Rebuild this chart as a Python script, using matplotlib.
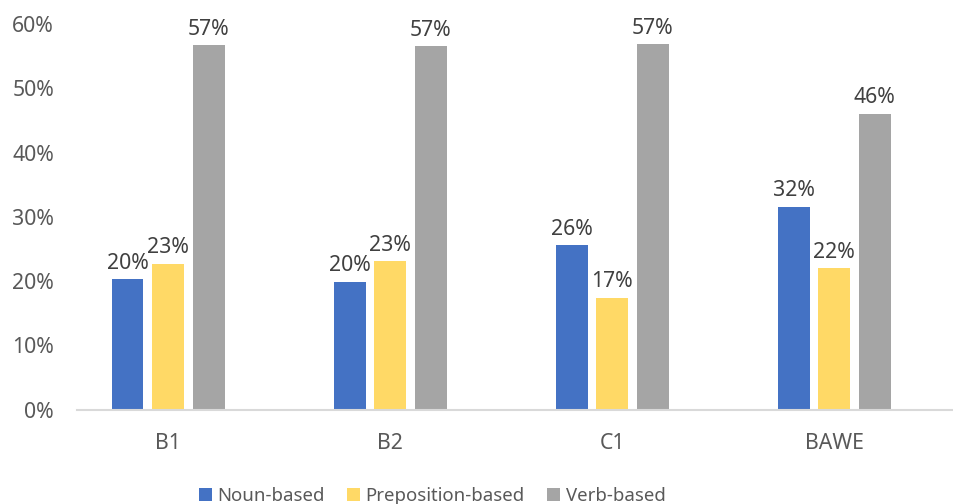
import numpy as np
import matplotlib.pyplot as plt

plt.rcParams['font.family'] = ['Noto Sans', 'DejaVu Sans']

categories = ['B1', 'B2', 'C1', 'BAWE']
series = ['Noun-based', 'Preposition-based', 'Verb-based']
noun = [0.203, 0.199, 0.256, 0.316]
prep = [0.227, 0.231, 0.174, 0.220]
verb = [0.567, 0.566, 0.569, 0.461]
colors = ['#4472C4', '#FFD966', '#A5A5A5']

fig = plt.figure(figsize=(9.54, 5.04), dpi=100)
ax = fig.add_axes([77 / 954, 0.1875, 877 / 954, 0.7643])

x = np.arange(len(categories))
bw = 0.144
step = 0.1825
for i, (vals, name) in enumerate(zip([noun, prep, verb], series)):
    pos = x + (i - 1) * step
    bars = ax.bar(pos, vals, bw, color=colors[i], label=name, zorder=2)
    for b, v in zip(bars, vals):
        ax.annotate('{:.0%}'.format(v), (b.get_x() + b.get_width() / 2, v),
                    xytext=(0, 4), textcoords='offset points',
                    ha='center', va='bottom', fontsize=15.3, color='#404040',
                    annotation_clip=False)

ax.set_xlim(-0.41, 3.54)
ax.set_ylim(0, 0.6)
ax.set_yticks(np.arange(0, 0.61, 0.1))
ax.set_yticklabels(['{:.0%}'.format(t) for t in np.arange(0, 0.61, 0.1)])
ax.set_xticks(x)
ax.set_xticklabels(categories)
ax.tick_params(axis='both', length=0, labelsize=15.3, labelcolor='#595959')
ax.tick_params(axis='x', pad=17)
ax.tick_params(axis='y', pad=16.5)

for s in ['top', 'right', 'left']:
    ax.spines[s].set_visible(False)
ax.spines['bottom'].set_color('#D9D9D9')
ax.spines['bottom'].set_linewidth(1.5)

# legend sits a bit left of the figure centre
fig.legend(loc='lower center', bbox_to_anchor=(0.453, -0.035), ncol=3,
           frameon=False, fontsize=13.4, handlelength=0.7, handleheight=0.7,
           handletextpad=0.3, columnspacing=1.2, labelcolor='#595959')

fig.savefig('out.png', dpi=100)
